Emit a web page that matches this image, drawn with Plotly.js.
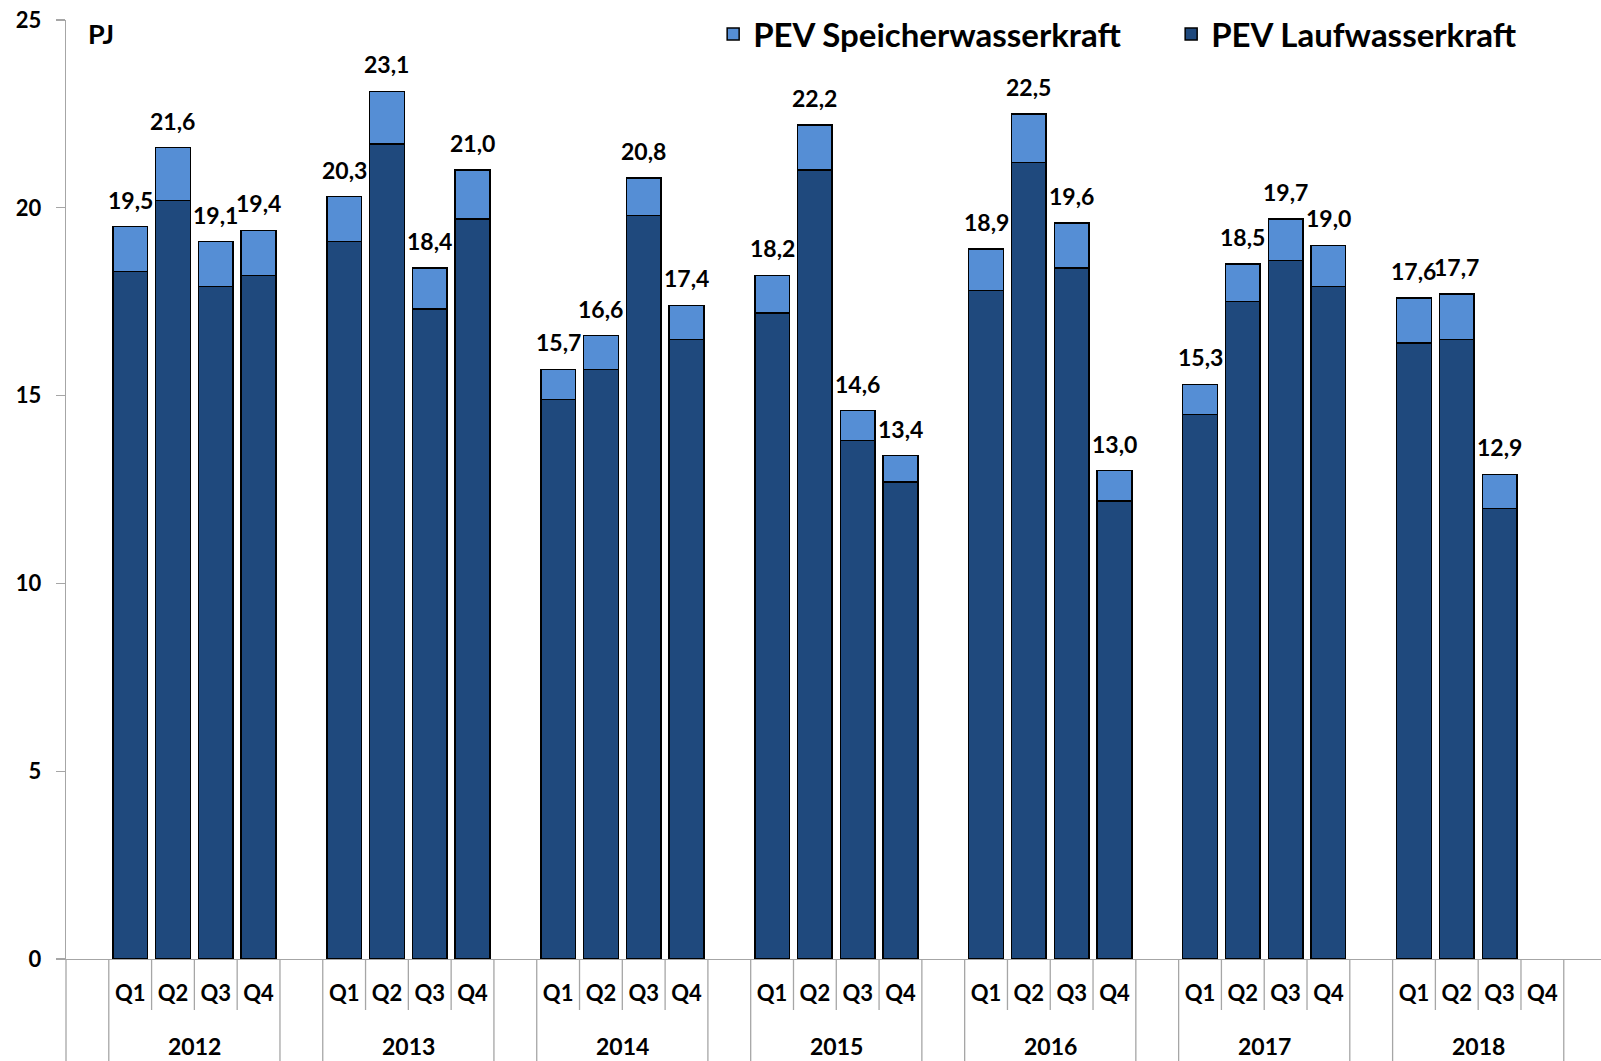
<!DOCTYPE html>
<html><head><meta charset="utf-8">
<script src="https://cdn.plot.ly/plotly-3.0.1.min.js"></script>
<style>html,body{margin:0;padding:0;background:#fff}#chart{width:1601px;height:1061px}</style>
</head><body><div id="chart"></div>
<script>
const years = ['2012','2013','2014','2015','2016','2017','2018'];
const quarters = ['Q1','Q2','Q3','Q4'];
const lauf = [18.3,20.2,17.9,18.2, 19.1,21.7,17.3,19.7, 14.9,15.7,19.8,16.5, 17.2,21.0,13.8,12.7, 17.8,21.2,18.4,12.2, 14.5,17.5,18.6,17.9, 16.4,16.5,12.0,null];
const speicher = [1.2,1.4,1.2,1.2, 1.2,1.4,1.1,1.3, 0.8,0.9,1.0,0.9, 1.0,1.2,0.8,0.7, 1.1,1.3,1.2,0.8, 0.8,1.0,1.1,1.1, 1.2,1.2,0.9,null];
const totals = [19.5,21.6,19.1,19.4, 20.3,23.1,18.4,21.0, 15.7,16.6,20.8,17.4, 18.2,22.2,14.6,13.4, 18.9,22.5,19.6,13.0, 15.3,18.5,19.7,19.0, 17.6,17.7,12.9,null];
const unitLabel = 'PJ';
const seriesNames = ['PEV Laufwasserkraft','PEV Speicherwasserkraft'];

const FONT = 'Lato, "Open Sans", sans-serif';
const GRID = '#a6a6a6';

// build categories: a blank slot before each year, plus one at the end
const cats = [], tickText = [], quarterCats = [];
years.forEach(yr => {
  cats.push('gap-' + yr); tickText.push('');
  quarters.forEach(q => { const id = yr + ' ' + q; cats.push(id); tickText.push(q); quarterCats.push(id); });
});
cats.push('gap-end'); tickText.push('');

const traces = [
  {type:'bar', name:seriesNames[0], x:quarterCats, y:lauf,
   marker:{color:'#1f497d', line:{color:'#000', width:1.5}}, hoverinfo:'x+y'},
  {type:'bar', name:seriesNames[1], x:quarterCats, y:speicher,
   marker:{color:'#558ed5', line:{color:'#000', width:1.5}}, hoverinfo:'x+y'}
];

const shapes = [];
const annotations = [];
const belowShort = -51/939, belowLong = -102/939;
// left edge line continuing below the axis
shapes.push({type:'line', xref:'paper', yref:'paper', x0:0, x1:0, y0:0, y1:belowLong, line:{color:GRID, width:1.3}});
for (let i = 0; i <= years.length; i++) {
  const base = 5*i;
  if (i > 0) shapes.push({type:'line', xref:'x', yref:'paper', x0:base-0.5, x1:base-0.5, y0:0, y1:belowLong, line:{color:GRID, width:1.3}});
  if (i < years.length) {
    shapes.push({type:'line', xref:'x', yref:'paper', x0:base+0.5, x1:base+0.5, y0:0, y1:belowLong, line:{color:GRID, width:1.3}});
    [1.5,2.5,3.5].forEach(o => shapes.push({type:'line', xref:'x', yref:'paper', x0:base+o, x1:base+o, y0:0, y1:belowShort, line:{color:GRID, width:1.3}}));
    annotations.push({xref:'x', yref:'paper', x:base+2.5, y:-87/939, yanchor:'middle', xanchor:'center', showarrow:false,
      text:years[i], font:{family:FONT, size:23, color:'#000', weight:'bold'}});
  }
}
// total labels
quarterCats.forEach((c, i) => {
  if (totals[i] == null) return;
  annotations.push({xref:'x', yref:'y', x:c, y:totals[i], yanchor:'bottom', xanchor:'center', yshift:11, showarrow:false,
    text:totals[i].toFixed(1).replace('.', ','), font:{family:FONT, size:23, color:'#000', weight:'bold'}});
});
annotations.push({xref:'paper', yref:'paper', x:0.013, y:0.986, xanchor:'left', yanchor:'middle', showarrow:false,
  text:unitLabel, font:{family:FONT, size:27, color:'#000', weight:'bold'}});

const layout = {
  width:1601, height:1061,
  margin:{l:66, r:0, t:20, b:102, autoexpand:false},
  paper_bgcolor:'#fff', plot_bgcolor:'#fff',
  barmode:'stack', bargap:0.19,
  font:{family:FONT, color:'#000'},
  showlegend:true,
  legend:{orientation:'h', traceorder:'reversed', x:0.4216, xanchor:'left', y:0.985, yanchor:'middle',
    font:{family:FONT, size:33, color:'#000', weight:'bold'}, bgcolor:'rgba(0,0,0,0)', entrywidth:413},
  xaxis:{type:'category', categoryorder:'array', categoryarray:cats, range:[-0.5, 35.37],
    tickmode:'array', tickvals:cats, ticktext:tickText, ticks:'', showgrid:false, zeroline:false,
    showline:true, linecolor:GRID, linewidth:1.3, ticklabelstandoff:14, automargin:false,
    tickfont:{family:FONT, size:22, color:'#000', weight:'bold'}, fixedrange:true},
  yaxis:{range:[0,25], tickvals:[0,5,10,15,20,25], ticks:'outside', ticklen:9, tickwidth:1.3, tickcolor:GRID,
    showline:true, linecolor:GRID, linewidth:1.3, showgrid:false, zeroline:false, ticklabelstandoff:10, automargin:false,
    tickfont:{family:FONT, size:22, color:'#000', weight:'bold'}, fixedrange:true},
  shapes:shapes, annotations:annotations
};
Plotly.newPlot('chart', traces, layout, {displayModeBar:false, staticPlot:true});
</script></body></html>
